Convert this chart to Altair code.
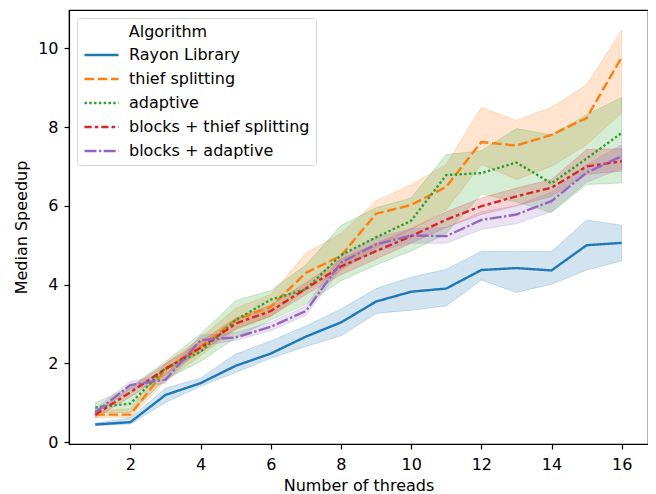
import altair as alt
import pandas as pd

threads = list(range(1, 17))

algorithms = ["Rayon Library", "thief splitting", "adaptive",
              "blocks + thief splitting", "blocks + adaptive"]

rayon = [0.45, 0.51, 1.20, 1.50, 1.94, 2.25, 2.68, 3.04, 3.57, 3.82, 3.90, 4.37, 4.42, 4.36, 5.00, 5.06]
rayon_lo = [0.42, 0.46, 1.01, 1.42, 1.77, 2.13, 2.43, 2.70, 3.27, 3.35, 3.46, 4.12, 3.80, 4.01, 4.37, 4.60]
rayon_hi = [0.48, 0.62, 1.37, 1.63, 2.24, 2.57, 2.95, 3.38, 3.90, 4.19, 4.39, 4.84, 4.84, 4.84, 5.64, 5.51]

thief = [0.70, 0.70, 1.84, 2.43, 3.10, 3.44, 4.30, 4.73, 5.80, 6.02, 6.48, 7.62, 7.53, 7.80, 8.23, 9.77]
thief_lo = [0.63, 0.63, 1.55, 2.20, 2.85, 3.20, 3.85, 4.35, 4.95, 5.40, 5.90, 7.05, 6.67, 7.00, 7.55, 8.36]
thief_hi = [0.80, 0.85, 2.00, 2.65, 3.40, 3.75, 4.80, 5.30, 6.12, 6.54, 7.05, 8.50, 8.17, 8.50, 9.07, 10.46]

adaptive = [0.88, 0.98, 1.88, 2.30, 3.10, 3.62, 3.88, 4.75, 5.20, 5.62, 6.78, 6.83, 7.10, 6.57, 7.20, 7.85]
adaptive_lo = [0.75, 0.75, 1.60, 2.05, 2.65, 3.10, 3.50, 4.10, 4.50, 4.85, 5.30, 6.30, 6.10, 5.83, 6.54, 6.58]
adaptive_hi = [1.00, 1.40, 2.05, 2.75, 3.60, 3.85, 4.50, 5.50, 5.95, 6.20, 7.30, 7.40, 7.96, 7.80, 8.31, 8.75]

bthief = [0.70, 1.27, 1.86, 2.40, 3.01, 3.33, 3.90, 4.46, 4.85, 5.23, 5.65, 5.99, 6.24, 6.46, 7.00, 7.13]
bthief_lo = [0.62, 1.15, 1.72, 2.28, 2.88, 3.20, 3.75, 4.25, 4.65, 5.05, 5.45, 5.78, 6.00, 6.24, 6.80, 6.88]
bthief_hi = [0.78, 1.38, 2.00, 2.55, 3.15, 3.48, 4.05, 4.65, 5.05, 5.42, 5.85, 6.20, 6.45, 6.67, 7.43, 7.45]

badaptive = [0.76, 1.45, 1.59, 2.59, 2.66, 2.93, 3.33, 4.56, 5.02, 5.25, 5.23, 5.64, 5.78, 6.12, 6.84, 7.26]
badaptive_lo = [0.70, 1.35, 1.50, 2.45, 2.58, 2.83, 3.22, 4.40, 4.85, 5.05, 5.05, 5.40, 5.55, 5.85, 6.60, 6.95]
badaptive_hi = [0.85, 1.55, 1.70, 2.72, 2.78, 3.05, 3.45, 4.72, 5.20, 5.42, 5.45, 5.85, 6.00, 6.35, 7.05, 7.55]

series = {
    "Rayon Library": (rayon, rayon_lo, rayon_hi),
    "thief splitting": (thief, thief_lo, thief_hi),
    "adaptive": (adaptive, adaptive_lo, adaptive_hi),
    "blocks + thief splitting": (bthief, bthief_lo, bthief_hi),
    "blocks + adaptive": (badaptive, badaptive_lo, badaptive_hi),
}

rows = []
for name, (mid, lo, hi) in series.items():
    for t, m, l, h in zip(threads, mid, lo, hi):
        rows.append({"threads": t, "speedup": m, "lo": l, "hi": h, "Algorithm": name})
df = pd.DataFrame(rows)

colors = ["#1f77b4", "#ff7f0e", "#2ca02c", "#d62728", "#9467bd"]
lw = 2.4
dashes = [[1, 0], [4 * lw, 1.5 * lw], [1 * lw, 1 * lw],
          [3 * lw, 1.25 * lw, 1.5 * lw, 1.25 * lw], [5 * lw, 1 * lw, 1 * lw, 1 * lw]]

FS = 16
xscale = alt.Scale(domain=[0.25, 16.75], nice=False, zero=False)
yscale = alt.Scale(domain=[-0.045, 10.97], nice=False, zero=False)

x_enc = alt.X("threads:Q", scale=xscale,
              axis=alt.Axis(values=[2, 4, 6, 8, 10, 12, 14, 16], title="Number of threads",
                            grid=False, titlePadding=5, labelPadding=7))
y_enc = alt.Y("speedup:Q", scale=yscale,
              axis=alt.Axis(values=[0, 2, 4, 6, 8, 10], title="Median Speedup",
                            grid=False, titlePadding=8, labelPadding=6))

bands = alt.Chart(df).mark_area(fillOpacity=0.2, strokeOpacity=0.2, strokeWidth=1).encode(
    x=alt.X("threads:Q", scale=xscale),
    y=alt.Y("lo:Q", scale=yscale),
    y2="hi:Q",
    color=alt.Color("Algorithm:N", scale=alt.Scale(domain=algorithms, range=colors), legend=None),
    stroke=alt.Stroke("Algorithm:N", scale=alt.Scale(domain=algorithms, range=colors), legend=None),
    detail="Algorithm:N",
)

legend = alt.Legend(
    title="\u200b" + "\u00a0" * 9 + "Algorithm",
    orient="none", legendX=8, legendY=8,
    symbolType="M-1,0H3", symbolSize=289, symbolStrokeWidth=lw,
    labelFontSize=FS, titleFontSize=FS, titleFontWeight="normal",
    labelFont="DejaVu Sans", titleFont="DejaVu Sans",
    labelColor="black", titleColor="black",
    strokeColor="#d5d5d5", fillColor="white", cornerRadius=3,
    padding=6, rowPadding=6, titlePadding=5, labelOffset=26,
    labelLimit=400,
)

lines = alt.Chart(df).mark_line(strokeWidth=lw).encode(
    x=x_enc,
    y=y_enc,
    color=alt.Color("Algorithm:N", scale=alt.Scale(domain=algorithms, range=colors),
                    legend=legend, sort=algorithms),
    strokeDash=alt.StrokeDash("Algorithm:N", scale=alt.Scale(domain=algorithms, range=dashes),
                              legend=legend, sort=algorithms),
)

chart = (bands + lines).resolve_scale(
    color="independent", stroke="independent", strokeDash="independent"
).properties(
    width=579, height=434,
    autosize=alt.AutoSizeParams(type="none"),
    padding={"left": 61, "top": 2, "right": 0, "bottom": 54},
).configure_view(stroke="black", strokeWidth=1.2).configure_axis(
    labelFont="DejaVu Sans", titleFont="DejaVu Sans",
    labelFontSize=FS, titleFontSize=FS, titleFontWeight="normal",
    labelColor="black", titleColor="black",
    domainColor="black", tickColor="black", tickSize=5, tickWidth=1.2,
    domainWidth=1.2,
)

chart.save("out.html", embed_options={"renderer": "svg", "actions": False})
